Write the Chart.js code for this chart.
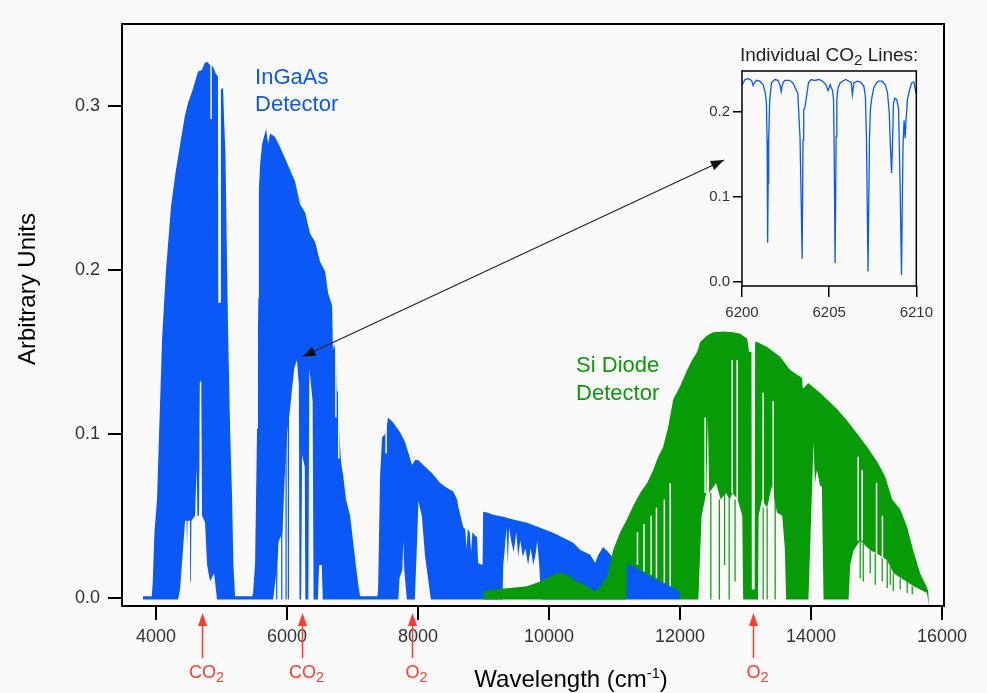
<!DOCTYPE html>
<html>
<head>
<meta charset="utf-8">
<script src="https://cdn.jsdelivr.net/npm/chart.js@4.4.0/dist/chart.umd.min.js"></script>
<style>
  html, body { margin: 0; padding: 0; background: #fafafa; }
  #wrap { position: relative; width: 987px; height: 693px; }
  #mainChart { position: absolute; left: 0; top: 0; }
  #insetChart { position: absolute; left: 695px; top: 40px; }
</style>
</head>
<body>
<div id="wrap">
  <canvas id="mainChart" width="987" height="693"></canvas>
  <canvas id="insetChart" width="245" height="285"></canvas>
</div>
<script>
// axis ticks
const xTicks = [4000, 6000, 8000, 10000, 12000, 14000, 16000];
const yTicks = [0, 0.1, 0.2, 0.3];
const insetXTicks = [6200, 6205, 6210];
const insetYTicks = [0, 0.1, 0.2];

// InGaAs detector spectrum: upper and lower envelope [wavenumber, signal]
const ingaasUpper = [
  [3800,0.001],[3935,0.001],[3950,0.01],[3975,0.04],[4015,0.06],[4046,0.1],[4070,0.13],[4092,0.158],[4150,0.199],[4229,0.239],
  [4300,0.26],[4366,0.276],[4440,0.294],[4489,0.302],[4560,0.31],[4641,0.321],[4700,0.322],[4740,0.326],[4779,0.327],[4800,0.326],
  [4825,0.325],[4870,0.324],[4910,0.32],[4945,0.318],[4950,0.18],[4985,0.18],[4990,0.31],[5023,0.311],[5040,0.29],[5060,0.27],
  [5085,0.2],[5099,0.164],[5130,0.103],[5160,0.062],[5180,0.021],[5206,0.001],
  [5470,0.001],[5481,0.003],[5512,0.021],[5542,0.103],[5556,0.164],[5562,0.183],[5570,0.25],[5590,0.265],[5619,0.277],[5640,0.28],
  [5680,0.286],[5700,0.28],[5711,0.277],[5740,0.283],[5787,0.282],[5817,0.281],[5893,0.275],[5970,0.268],[6046,0.261],[6122,0.254],
  [6199,0.24],[6275,0.235],[6352,0.222],[6428,0.217],[6504,0.205],[6581,0.199],[6626,0.186],[6688,0.178],[6700,0.151],[6718,0.155],
  [6740,0.15],[6764,0.125],[6779,0.127],[6800,0.1],[6825,0.082],[6855,0.075],[6900,0.06],[6962,0.05],[7020,0.03],[7084,0.009],[7115,0.001],
  [7380,0.001],[7390,0.005],[7420,0.074],[7451,0.098],[7500,0.1],[7543,0.11],[7619,0.107],[7726,0.101],[7802,0.095],[7848,0.089],
  [7909,0.081],[7955,0.084],[8001,0.084],[8108,0.08],[8215,0.076],[8337,0.07],[8444,0.067],[8535,0.065],[8597,0.06],[8612,0.056],
  [8673,0.046],[8689,0.043],[8720,0.042],[8740,0.03],[8760,0.042],[8790,0.04],[8810,0.028],[8830,0.04],[8870,0.038],[8900,0.037],
  [8918,0.021],[8985,0.02],
  [8994,0.0525],[9055,0.052],[9146,0.0507],[9299,0.0495],[9452,0.0477],[9665,0.0458],[9864,0.0428],[10062,0.0397],[10215,0.0367],
  [10368,0.0336],[10474,0.0293],[10627,0.0263],[10704,0.0214],[10749,0.026],[10826,0.031],[10902,0.028],[10963,0.025],[11100,0.024],
  [11192,0.022],[11300,0.02],[11500,0.015],[11700,0.011],[11900,0.007],[12000,0.004]
];
const ingaasLower = [
  [3800,-0.001],[4336,-0.001],[4366,0.005],[4412,0.03],[4443,0.047],[4466,0.047],[4473,0.03],[4480,0.047],[4519,0.047],[4530,0.01],
  [4540,0.047],[4595,0.05],[4620,0.079],[4632,0.05],[4656,0.05],[4668,0.132],[4690,0.132],[4702,0.05],[4748,0.046],[4779,0.02],
  [4825,0.01],[4886,0.015],[4931,-0.001],
  [5787,-0.001],[5850,0.02],[5870,0.034],[5930,0.04],[5960,0.07],[6000,0.1],[6040,0.113],[6080,0.129],[6110,0.14],[6150,0.145],
  [6180,0.13],[6190,-0.001],[6215,-0.001],[6230,0.087],[6270,0.08],[6280,-0.001],[6325,-0.001],[6340,0.14],[6390,0.12],[6405,-0.001],
  [6470,-0.001],[6490,0.02],[6530,0.02],[6545,-0.001],
  [7700,-0.001],[7716,0.012],[7760,0.017],[7775,0.035],[7790,0.017],[7829,-0.001],[7950,-0.001],[7981,0.03],[8006,0.059],[8057,0.05],
  [8108,0.025],[8159,0.01],[8195,-0.001],
  [9290,-0.001],[9300,0.02],[9320,0.028],[9350,0.043],[9370,0.02],[9390,0.043],[9420,0.035],[9460,0.028],[9500,0.04],[9530,0.025],
  [9560,0.035],[9600,0.025],[9640,0.03],[9680,0.02],[9720,0.03],[9760,0.02],[9800,0.028],[9820,0.035],[9850,0.02],[9880,-0.001],
  [12000,-0.001]
];
// single absorption lines [wavenumber, from, to]
const ingaasLines = [[5843,-0.001,0.05],[5919,-0.001,0.07],[5985,-0.001,0.1],[6020,-0.001,0.11]];
const ingaasGaps = [[4840,0.292,0.34],[7512,0.088,0.115],[6745,0.11,0.16],[6790,0.085,0.13]];

// Si diode detector spectrum
const siUpper = [
  [8994,0.004],[9146,0.005],[9406,0.006],[9665,0.007],[9864,0.01],[10017,0.013],[10124,0.015],[10169,0.015],[10276,0.014],[10429,0.01],
  [10581,0.007],[10704,0.004],[10780,0.007],[10887,0.013],[10978,0.029],[11055,0.037],[11085,0.04],[11192,0.048],[11284,0.056],
  [11391,0.064],[11498,0.07],[11590,0.078],[11666,0.086],[11742,0.092],[11818,0.104],[11895,0.121],[12001,0.129],[12108,0.139],
  [12185,0.145],[12261,0.15],[12307,0.156],[12414,0.16],[12506,0.162],[12659,0.1625],[12811,0.162],[12918,0.161],[13025,0.158],
  [13055,0.15],[13090,0.15],[13096,0.005],[13140,0.005],[13146,0.156],[13177,0.156],[13330,0.153],[13528,0.147],[13681,0.139],
  [13864,0.134],[13872,0.128],[13890,0.128],[13956,0.131],[14109,0.126],[14246,0.121],[14399,0.115],[14552,0.108],[14705,0.1],
  [14857,0.092],[15010,0.083],[15132,0.074],[15239,0.06],[15361,0.054],[15468,0.043],[15559,0.029],[15666,0.015],[15773,0.006],
  [15790,0.004],[15800,-0.005]
];
const siLower = [
  [8994,-0.001],[11180,-0.001],[11192,0.021],[11300,0.019],[11500,0.014],[11700,0.01],[11900,0.006],[11990,0.004],[12000,-0.001],
  [12280,-0.001],[12300,0.02],[12330,0.05],[12400,0.064],[12425,0.11],[12445,0.064],
  [12550,0.07],[12620,0.06],[12700,0.064],[12760,0.06],[12800,0.064],[12880,0.06],[12950,0.05],[12964,-0.001],[13190,-0.001],
  [13200,0.05],[13250,0.06],[13330,0.055],[13400,0.068],[13480,0.052],[13560,0.05],[13600,0.03],[13620,-0.001],[13960,-0.001],
  [13987,0.031],[14038,0.095],[14060,0.07],[14089,0.078],[14140,0.068],[14165,0.068],[14191,-0.001],[14573,-0.001],[14598,0.02],
  [14649,0.029],[14751,0.035],[14904,0.029],[15006,0.027],[15159,0.023],[15261,0.015],[15414,0.011],[15567,0.007],[15770,0.003],
  [15800,-0.005]
];
const siLines = [[12470,-0.001,0.064],[12600,-0.001,0.06],[12680,0.02,0.064],[12750,-0.001,0.064],[12840,0.01,0.06],
  [13269,-0.001,0.055],[13330,-0.001,0.055],[13452,-0.001,0.06],
  [14751,0.012,0.035],[14797,0.01,0.033],[14904,0.015,0.029],[14980,0.008,0.027],[15087,0.01,0.025],[15163,0.006,0.023],
  [15209,0.008,0.019],[15255,0.004,0.015],[15361,0.005,0.012],[15468,0.003,0.01],[15545,0.002,0.007]];
const siGaps = [[11350,0.02,0.04],[11450,0.016,0.045],[11560,0.014,0.05],[11640,0.012,0.055],[11760,0.009,0.06],[11850,0.007,0.07],
  [12383,0.064,0.11],[12796,0.064,0.145],[12872,0.06,0.145],[13269,0.055,0.125],[13422,0.06,0.12],
  [14720,0.035,0.086],[14780,0.035,0.078],[15000,0.027,0.07],[15090,0.024,0.05]];

// inset: individual CO2 lines near 6205 cm-1
const co2Lines = [
  [6200.02,0.232],[6200.17,0.238],[6200.36,0.239],[6200.55,0.237],[6200.64,0.231],[6200.74,0.235],[6200.83,0.237],[6201.02,0.236],
  [6201.21,0.232],[6201.34,0.222],[6201.40,0.21],[6201.44,0.167],[6201.46,0.116],[6201.48,0.046],[6201.50,0.116],[6201.53,0.167],
  [6201.59,0.214],[6201.69,0.234],[6201.88,0.238],[6202.06,0.237],[6202.20,0.23],[6202.25,0.224],[6202.31,0.232],[6202.44,0.237],
  [6202.73,0.237],[6202.92,0.234],[6203.01,0.23],[6203.20,0.222],[6203.33,0.169],[6203.39,0.1],[6203.45,0.027],[6203.50,0.167],
  [6203.54,0.202],[6203.62,0.206],[6203.73,0.222],[6203.81,0.234],[6203.96,0.238],[6204.15,0.237],[6204.43,0.238],[6204.62,0.236],
  [6204.81,0.232],[6204.94,0.225],[6205.06,0.232],[6205.19,0.225],[6205.25,0.214],[6205.28,0.171],[6205.34,0.022],[6205.40,0.171],
  [6205.44,0.214],[6205.51,0.228],[6205.63,0.234],[6205.76,0.236],[6205.95,0.238],[6206.14,0.236],[6206.27,0.234],[6206.33,0.22],
  [6206.42,0.234],[6206.61,0.236],[6206.80,0.235],[6206.99,0.23],[6207.08,0.218],[6207.14,0.167],[6207.23,0.012],[6207.31,0.167],
  [6207.37,0.204],[6207.46,0.218],[6207.56,0.228],[6207.71,0.234],[6207.84,0.236],[6208.03,0.236],[6208.22,0.232],[6208.35,0.222],
  [6208.45,0.198],[6208.50,0.167],[6208.58,0.128],[6208.64,0.167],[6208.69,0.21],[6208.77,0.216],[6208.88,0.214],[6208.98,0.204],
  [6209.07,0.112],[6209.15,0.008],[6209.19,0.085],[6209.24,0.163],[6209.30,0.19],[6209.36,0.169],[6209.41,0.19],[6209.49,0.214],
  [6209.60,0.225],[6209.73,0.234],[6209.86,0.235],[6209.98,0.222]
];

// absorber markers below the axis
const absorberNames = ['CO₂', 'CO₂', 'O₂', 'O₂'];
const absorberWn = [4702, 6229, 7909, 13120];
// detector labels [text, wavenumber, signal]
const detectorLabels = [['InGaAs', 5512, 0.3134], ['Detector', 5512, 0.2969], ['Si Diode', 10413, 0.1376], ['Detector', 10413, 0.1205]];
// zoom arrow: inset end, spectrum end
const zoomArrow = [[12670, 0.267], [6235, 0.147]];

const BG = '#fafafa';
const BLUE = '#0a58f5';
const GREEN = '#079b07';
const RED = '#ff3b2b';
const FONT = '"Liberation Sans", Arial, Helvetica, sans-serif';

function pts(rows) {
    return rows.map(r => ({ x: r[0], y: r[1] }));
}

function strokes(rows) {
    let out = [];
    rows.forEach(r => {
        out.push({ x: r[0], y: r[1] }, { x: r[0], y: r[2] }, { x: r[0], y: null });
    });
    return out;
}

function drawRich(ctx, text, x, y, size, align) {
    let runs = [];
    for (const ch of text) {
        let kind = 'n', c = ch;
        if (ch === '₂') { kind = 'sub'; c = '2'; }
        else if (ch === '⁻') { kind = 'sup'; c = '-'; }
        else if (ch === '¹') { kind = 'sup'; c = '1'; }
        let last = runs[runs.length - 1];
        if (last && last.kind === kind) last.text += c;
        else runs.push({ kind: kind, text: c });
    }
    let total = 0;
    runs.forEach(r => {
        r.size = r.kind === 'n' ? size : (r.kind === 'sub' ? size * 0.8 : size * 0.6);
        ctx.font = r.size + 'px ' + FONT;
        r.w = ctx.measureText(r.text).width;
        total += r.w;
    });
    let cx = align === 'center' ? x - total / 2 : x;
    ctx.textAlign = 'left';
    ctx.textBaseline = 'alphabetic';
    runs.forEach(r => {
        let dy = r.kind === 'sub' ? size * 0.22 : (r.kind === 'sup' ? -size * 0.38 : 0);
        ctx.font = r.size + 'px ' + FONT;
        ctx.fillText(r.text, cx, y + dy);
        cx += r.w;
    });
}

function arrowHead(ctx, tx, ty, fx, fy, len, half) {
    let a = Math.atan2(ty - fy, tx - fx);
    let bx = tx - len * Math.cos(a), by = ty - len * Math.sin(a);
    ctx.beginPath();
    ctx.moveTo(tx, ty);
    ctx.lineTo(bx + half * Math.sin(a), by - half * Math.cos(a));
    ctx.lineTo(bx - half * Math.sin(a), by + half * Math.cos(a));
    ctx.closePath();
    ctx.fill();
}

function areaSet(rows, color, order, fill) {
    return {
        data: pts(rows), borderColor: 'rgba(0,0,0,0)', borderWidth: 1, backgroundColor: color,
        fill: fill, pointRadius: 0, tension: 0, order: order
    };
}

function strokeSet(rows, color, width, order) {
    return {
        data: strokes(rows), borderColor: color, borderWidth: width, fill: false,
        pointRadius: 0, tension: 0, spanGaps: false, order: order
    };
}

const mainDecor = {
    id: 'mainDecor',
    beforeDraw(chart) {
        let ctx = chart.ctx;
        ctx.save();
        ctx.fillStyle = BG;
        ctx.fillRect(0, 0, chart.width, chart.height);
        ctx.restore();
    },
    afterDraw(chart) {
        let ctx = chart.ctx;
        let a = chart.chartArea;
        let sx = chart.scales.x, sy = chart.scales.y;
        ctx.save();
        ctx.strokeStyle = '#000';
        ctx.lineWidth = 2;
        ctx.strokeRect(a.left, a.top, a.right - a.left, a.bottom - a.top);

        // red absorber arrows
        absorberWn.forEach((wn, i) => {
            let px = Math.round(sx.getPixelForValue(wn)) + 0.5;
            ctx.strokeStyle = RED;
            ctx.fillStyle = RED;
            ctx.lineWidth = 1.5;
            ctx.beginPath();
            ctx.moveTo(px, a.bottom + 18);
            ctx.lineTo(px, a.bottom + 52);
            ctx.stroke();
            arrowHead(ctx, px, a.bottom + 7, px, a.bottom + 30, 13, 4.5);
            drawRich(ctx, absorberNames[i], px + 4, a.bottom + 72, 18, 'center');
        });

        // zoom arrow to the inset
        let p0 = [sx.getPixelForValue(zoomArrow[0][0]), sy.getPixelForValue(zoomArrow[0][1])];
        let p1 = [sx.getPixelForValue(zoomArrow[1][0]), sy.getPixelForValue(zoomArrow[1][1])];
        ctx.strokeStyle = '#222';
        ctx.fillStyle = '#111';
        ctx.lineWidth = 1.2;
        ctx.beginPath();
        ctx.moveTo(p0[0], p0[1]);
        ctx.lineTo(p1[0], p1[1]);
        ctx.stroke();
        arrowHead(ctx, p0[0], p0[1], p1[0], p1[1], 13, 5);
        arrowHead(ctx, p1[0], p1[1], p0[0], p0[1], 13, 5);

        // detector labels
        detectorLabels.forEach(l => {
            ctx.fillStyle = l[1] < 8000 ? BLUE : GREEN;
            drawRich(ctx, l[0], sx.getPixelForValue(l[1]), sy.getPixelForValue(l[2]), 22, 'left');
        });

        // axis titles
        ctx.fillStyle = '#000';
        drawRich(ctx, 'Wavelength (cm⁻¹)', 571, 687, 24, 'center');
        ctx.translate(35, 289);
        ctx.rotate(-Math.PI / 2);
        drawRich(ctx, 'Arbitrary Units', 0, 0, 24, 'center');
        ctx.restore();
    }
};

const insetDecor = {
    id: 'insetDecor',
    afterDraw(chart) {
        let ctx = chart.ctx;
        let a = chart.chartArea;
        ctx.save();
        ctx.strokeStyle = '#000';
        ctx.lineWidth = 1.5;
        ctx.strokeRect(a.left, a.top, a.right - a.left, a.bottom - a.top);
        ctx.fillStyle = '#222';
        drawRich(ctx, 'Individual CO₂ Lines:', (a.left + a.right) / 2, 21, 19, 'center');
        ctx.restore();
    }
};

function fixedTicks(list) {
    return function (scale) {
        scale.ticks = list.map(v => ({ value: v }));
    };
}

new Chart(document.getElementById('mainChart'), {
    type: 'line',
    data: {
        datasets: [
            areaSet(ingaasUpper, BLUE, 40, '+1'),
            areaSet(ingaasLower, BLUE, 39, false),
            strokeSet(ingaasLines, BLUE, 1.2, 38),
            strokeSet(ingaasGaps, BG, 1.5, 37),
            areaSet(siUpper, GREEN, 30, '+1'),
            areaSet(siLower, GREEN, 29, false),
            strokeSet(siLines, GREEN, 1.2, 28),
            strokeSet(siGaps, BG, 1.5, 27)
        ]
    },
    options: {
        responsive: false,
        animation: false,
        events: [],
        layout: { padding: { top: 24, right: 43, left: 0, bottom: 0 } },
        plugins: { legend: { display: false }, tooltip: { enabled: false } },
        scales: {
            x: {
                type: 'linear', min: 3480, max: 16030,
                afterBuildTicks: fixedTicks(xTicks),
                afterFit: s => { s.height = 87; },
                ticks: { callback: v => String(v), color: '#333', padding: 6, maxRotation: 0, autoSkip: false,
                         font: { family: FONT, size: 18 } },
                grid: { drawOnChartArea: false, tickLength: 14, lineWidth: 2, color: '#000' },
                border: { display: false }
            },
            y: {
                type: 'linear', min: -0.005, max: 0.35,
                afterBuildTicks: fixedTicks(yTicks),
                afterFit: s => { s.width = 122; },
                ticks: { callback: v => v.toFixed(1), color: '#333', padding: 8, font: { family: FONT, size: 18 } },
                grid: { drawOnChartArea: false, tickLength: 14, lineWidth: 2, color: '#000' },
                border: { display: false }
            }
        }
    },
    plugins: [mainDecor]
});

new Chart(document.getElementById('insetChart'), {
    type: 'line',
    data: {
        datasets: [{
            data: pts(co2Lines), borderColor: BLUE, borderWidth: 1.3, fill: false, pointRadius: 0, tension: 0
        }]
    },
    options: {
        responsive: false,
        animation: false,
        events: [],
        layout: { padding: { top: 31, right: 22, left: 0, bottom: 0 } },
        plugins: { legend: { display: false }, tooltip: { enabled: false } },
        scales: {
            x: {
                type: 'linear', min: 6200, max: 6210,
                afterBuildTicks: fixedTicks(insetXTicks),
                afterFit: s => { s.height = 39; },
                ticks: { callback: v => String(v), color: '#333', padding: 7, maxRotation: 0, autoSkip: false,
                         font: { family: FONT, size: 15 } },
                grid: { drawOnChartArea: false, tickLength: 11, lineWidth: 1.5, color: '#000' },
                border: { display: false }
            },
            y: {
                type: 'linear', min: -0.005, max: 0.248,
                afterBuildTicks: fixedTicks(insetYTicks),
                afterFit: s => { s.width = 47; },
                ticks: { callback: v => v.toFixed(1), color: '#333', padding: 3, font: { family: FONT, size: 15 } },
                grid: { drawOnChartArea: false, tickLength: 9, lineWidth: 1.5, color: '#000' },
                border: { display: false }
            }
        }
    },
    plugins: [insetDecor]
});
</script>
</body>
</html>
